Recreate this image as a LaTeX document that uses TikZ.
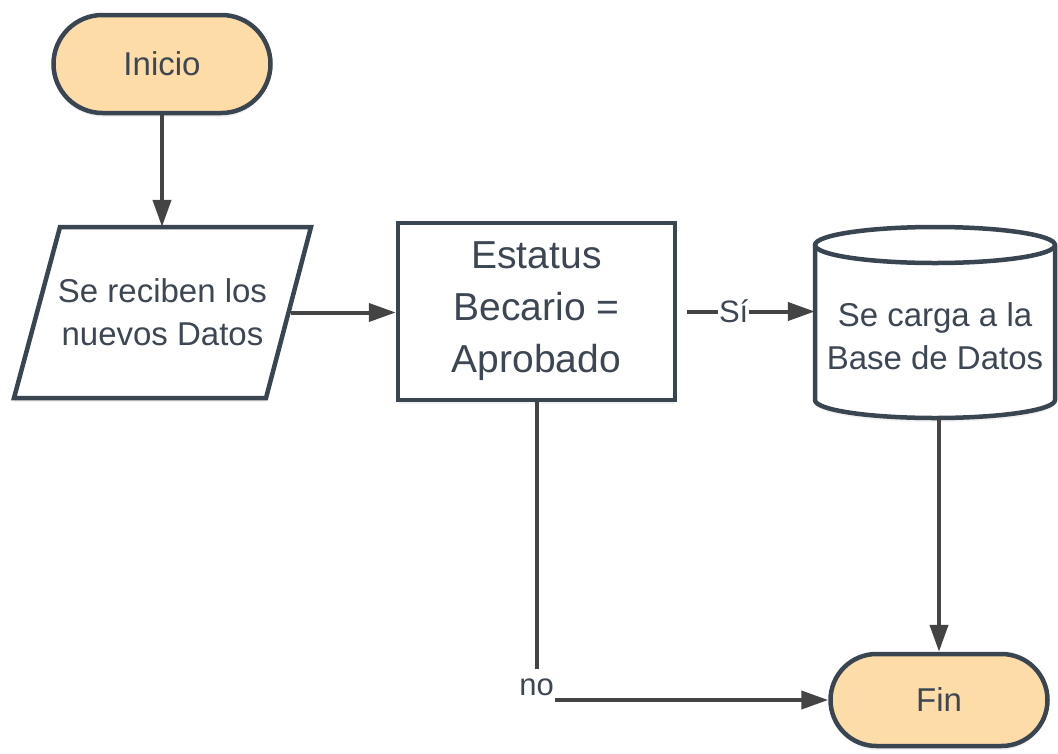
\documentclass[tikz,border=0pt]{standalone}
\usepackage{fontspec}
\setmainfont{Liberation Sans}
\usetikzlibrary{arrows.meta,shapes.misc,shadows,calc}
\definecolor{bord}{HTML}{3A4552}
\definecolor{txt}{HTML}{3D4753}
\definecolor{arr}{HTML}{444444}
\definecolor{term}{HTML}{FEDCA8}
\begin{document}
\begin{tikzpicture}[x=1pt,y=-1pt,
  shapeline/.style={draw=bord, line width=4.5pt},
  shad/.style={drop shadow={shadow xshift=0pt,shadow yshift=-4pt,opacity=0.10}},
  smalltext/.style={text=txt, font=\fontsize{33}{43}\selectfont, align=center},
  bigtext/.style={text=txt, font=\fontsize{39}{52}\selectfont, align=center},
  terminal/.style={shapeline, shad, rounded rectangle, fill=term, smalltext, inner sep=0pt},
  conn/.style={draw=arr, line width=4pt, -{Triangle[length=27pt,width=18pt]}},
  plainline/.style={draw=arr, line width=4pt},
  lbl/.style={text=txt, font=\fontsize{31}{36}\selectfont, fill=white, inner sep=1pt}
]
\useasboundingbox (0,0) rectangle (1058,753);
\fill[white] (0,0) rectangle (1058,753);

% Inicio
\node[terminal, minimum width=217pt, minimum height=98pt] (ini) at (162,64) {Inicio};

% parallelogram (input)
\draw[shapeline, shad, fill=white] (60,227) -- (311,227) -- (266,398) -- (14,398) -- cycle;
\node[smalltext, minimum width=256pt, minimum height=171pt, inner sep=0pt] (in) at (162.5,312.5) {Se reciben los\\nuevos Datos};

% decision box
\node[shapeline, shad, fill=white, minimum width=277pt, minimum height=177pt, bigtext] (dec) at (536.5,311.5) {Estatus\\Becario =\\Aprobado};

% database cylinder
\draw[shapeline, shad, fill=white] (815,245) -- (815,400)
  arc[start angle=180, end angle=360, x radius=120pt, y radius=18pt]
  -- (1055,245)
  arc[start angle=0, end angle=180, x radius=120pt, y radius=18pt] -- cycle;
\draw[shapeline] (815,245) arc[start angle=180, end angle=360, x radius=120pt, y radius=18pt];
\node[smalltext, minimum width=240pt, minimum height=164pt, inner sep=0pt] (db) at (935,336) {Se carga a la\\Base de Datos};

% Fin
\node[terminal, minimum width=217pt, minimum height=92pt] (fin) at (939,700) {Fin};

% connectors
\draw[conn] (ini.south) -- (ini.south |- in.north);
\draw[conn] (in.east) -- (in.east -| dec.west);
\draw[conn, shorten <=10pt] (dec.east) -- node[lbl, pos=0.41] (si) {Sí} (dec.east -| db.west);
\draw[conn] (fin.north |- db.south) -- (fin.north);

\coordinate (nobend) at (dec.south |- fin.west);
\draw[plainline] (dec.south) -- ($(nobend)+(0,-31)$);
\node[lbl, fill=none, anchor=base] (no) at ($(nobend)+(0,-5)$) {no};
\draw[conn] (no.east |- nobend) -- (fin.west);
\end{tikzpicture}
\end{document}
